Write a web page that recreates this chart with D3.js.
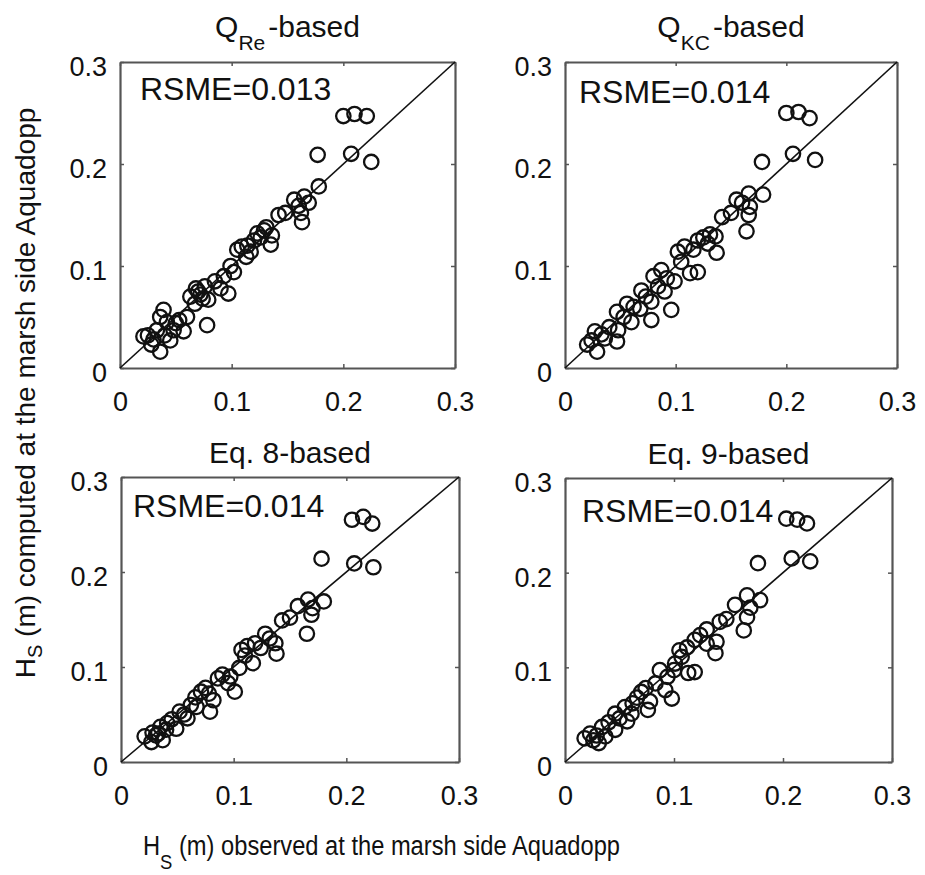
<!DOCTYPE html>
<html>
<head>
<meta charset="utf-8">
<script src="https://cdn.jsdelivr.net/npm/d3@7"></script>
<style>
  body { margin: 0; background: #fff; }
  text { font-family: "Liberation Sans", Arial, sans-serif; fill: #111; }
</style>
</head>
<body>
<div id="chart"></div>
<script>
// tick values shared by both axes of every panel
var tickValues = [0, 0.1, 0.2, 0.3];

var titleMain = ["Q", "Q", "Eq. 8-based", "Eq. 9-based"];
var titleSub = ["Re", "KC", "", ""];
var rsmeValues = ["0.013", "0.014", "0.014", "0.014"];

// [observed, computed] Hs pairs
var pointsQRe = [
  [0.200, 0.247], [0.210, 0.249], [0.221, 0.247],
  [0.177, 0.209], [0.207, 0.210], [0.225, 0.202],
  [0.178, 0.178], [0.156, 0.165], [0.165, 0.168], [0.169, 0.162], [0.162, 0.152], [0.163, 0.143],
  [0.142, 0.150], [0.129, 0.135], [0.123, 0.132], [0.136, 0.130], [0.135, 0.121], [0.120, 0.125],
  [0.117, 0.114], [0.105, 0.116], [0.109, 0.119], [0.114, 0.120], [0.126, 0.128], [0.131, 0.138],
  [0.102, 0.094], [0.093, 0.090], [0.097, 0.073], [0.090, 0.078], [0.076, 0.080], [0.070, 0.075],
  [0.063, 0.070], [0.079, 0.067], [0.067, 0.063], [0.078, 0.042], [0.085, 0.085], [0.072, 0.072],
  [0.060, 0.050], [0.057, 0.036], [0.048, 0.037], [0.039, 0.057], [0.036, 0.050], [0.045, 0.027],
  [0.033, 0.037], [0.025, 0.032], [0.021, 0.031], [0.036, 0.016], [0.028, 0.023], [0.050, 0.044],
  [0.042, 0.045], [0.030, 0.028], [0.068, 0.078], [0.074, 0.068], [0.053, 0.047], [0.040, 0.032],
  [0.113, 0.109], [0.099, 0.100], [0.148, 0.152], [0.160, 0.159]
];

var pointsQKC = [
  [0.200, 0.250], [0.211, 0.251], [0.221, 0.245],
  [0.178, 0.202], [0.206, 0.210], [0.226, 0.204],
  [0.179, 0.170], [0.166, 0.171], [0.155, 0.165], [0.167, 0.158], [0.166, 0.150], [0.164, 0.134],
  [0.142, 0.148], [0.136, 0.129], [0.137, 0.113], [0.120, 0.125], [0.129, 0.122], [0.125, 0.128],
  [0.102, 0.114], [0.108, 0.119], [0.113, 0.093], [0.120, 0.094], [0.116, 0.116], [0.131, 0.131],
  [0.087, 0.096], [0.080, 0.090], [0.099, 0.085], [0.090, 0.075], [0.078, 0.065], [0.096, 0.057],
  [0.078, 0.047], [0.068, 0.058], [0.056, 0.063], [0.047, 0.055], [0.060, 0.045], [0.069, 0.076],
  [0.048, 0.037], [0.047, 0.026], [0.036, 0.029], [0.027, 0.036], [0.024, 0.027], [0.029, 0.016],
  [0.020, 0.023], [0.040, 0.040], [0.084, 0.080], [0.062, 0.060], [0.073, 0.070], [0.092, 0.088],
  [0.053, 0.050], [0.033, 0.033], [0.105, 0.104], [0.150, 0.152], [0.160, 0.162]
];

var pointsEq8 = [
  [0.205, 0.255], [0.215, 0.258], [0.223, 0.251],
  [0.178, 0.214], [0.207, 0.209], [0.224, 0.205],
  [0.180, 0.169], [0.166, 0.171], [0.157, 0.164], [0.169, 0.155], [0.165, 0.135], [0.170, 0.162],
  [0.143, 0.149], [0.137, 0.125], [0.138, 0.114], [0.107, 0.118], [0.119, 0.125], [0.128, 0.135],
  [0.117, 0.104], [0.105, 0.099], [0.112, 0.122], [0.124, 0.120], [0.132, 0.130], [0.110, 0.112],
  [0.086, 0.088], [0.095, 0.083], [0.101, 0.074], [0.071, 0.074], [0.082, 0.065], [0.067, 0.058],
  [0.079, 0.053], [0.059, 0.046], [0.052, 0.053], [0.041, 0.041], [0.049, 0.035], [0.035, 0.037],
  [0.031, 0.028], [0.021, 0.027], [0.027, 0.021], [0.037, 0.023], [0.028, 0.031], [0.045, 0.045],
  [0.062, 0.060], [0.075, 0.078], [0.090, 0.092], [0.056, 0.050], [0.066, 0.068], [0.078, 0.072],
  [0.040, 0.034], [0.033, 0.030], [0.097, 0.090], [0.150, 0.152]
];

var pointsEq9 = [
  [0.203, 0.257], [0.213, 0.256], [0.222, 0.252],
  [0.177, 0.210], [0.208, 0.215], [0.225, 0.212],
  [0.179, 0.171], [0.167, 0.176], [0.156, 0.166], [0.167, 0.153], [0.164, 0.139], [0.170, 0.163],
  [0.142, 0.148], [0.139, 0.127], [0.138, 0.115], [0.119, 0.129], [0.105, 0.118], [0.107, 0.111],
  [0.113, 0.094], [0.119, 0.095], [0.101, 0.104], [0.124, 0.134], [0.130, 0.125], [0.112, 0.121],
  [0.087, 0.097], [0.083, 0.083], [0.092, 0.076], [0.098, 0.067], [0.070, 0.074], [0.078, 0.064],
  [0.076, 0.055], [0.055, 0.058], [0.061, 0.051], [0.046, 0.051], [0.057, 0.043], [0.046, 0.034],
  [0.034, 0.037], [0.037, 0.027], [0.023, 0.030], [0.026, 0.023], [0.031, 0.020], [0.018, 0.025],
  [0.066, 0.068], [0.040, 0.042], [0.130, 0.140], [0.094, 0.090], [0.074, 0.078], [0.062, 0.062],
  [0.050, 0.046], [0.029, 0.028], [0.148, 0.151], [0.100, 0.097]
];

var panelPoints = [pointsQRe, pointsQKC, pointsEq8, pointsEq9];

var width = 925,
    height = 875;

// plot boxes as they sit in the picture
var boxes = [
  { left: 120, right: 455, top: 62, bottom: 368 },
  { left: 565, right: 897, top: 62, bottom: 368 },
  { left: 121, right: 459, top: 477, bottom: 762 },
  { left: 565, right: 892, top: 478, bottom: 762 }
];
var rsmeOffsets = [[20, 38], [14, 41], [12, 40], [17, 44]];

var frameColor = "#555",
    markColor = "#111",
    tickFont = 27;

var svg = d3.select("#chart")
  .append("svg")
    .attr("width", width)
    .attr("height", height);

var tickFormat = function(d) { return d === 0 ? "0" : d.toFixed(1); };

boxes.forEach(function(box, i) {
  var x = d3.scaleLinear().domain([0, 0.3]).range([box.left, box.right]);
  var y = d3.scaleLinear().domain([0, 0.3]).range([box.bottom, box.top]);
  var g = svg.append("g").attr("class", "panel");

  // bottom axis with labels
  g.append("g")
    .attr("transform", "translate(0," + box.bottom + ")")
    .call(d3.axisBottom(x).tickValues(tickValues).tickFormat(tickFormat)
      .tickSizeInner(-4).tickSizeOuter(0).tickPadding(24))
    .call(styleAxis);

  // left axis with labels
  g.append("g")
    .attr("transform", "translate(" + box.left + ",0)")
    .call(d3.axisLeft(y).tickValues(tickValues).tickFormat(tickFormat)
      .tickSizeInner(-4).tickSizeOuter(0).tickPadding(13))
    .call(styleAxis)
    .selectAll("text").attr("dy", "0.5em");

  // top and right: frame lines and inward ticks only
  g.append("g")
    .attr("transform", "translate(0," + box.top + ")")
    .call(d3.axisTop(x).tickValues(tickValues).tickFormat("")
      .tickSizeInner(-4).tickSizeOuter(0))
    .call(styleAxis);
  g.append("g")
    .attr("transform", "translate(" + box.right + ",0)")
    .call(d3.axisRight(y).tickValues(tickValues).tickFormat("")
      .tickSizeInner(-4).tickSizeOuter(0))
    .call(styleAxis);

  // 1:1 line
  g.append("line")
    .attr("x1", x(0)).attr("y1", y(0))
    .attr("x2", x(0.3)).attr("y2", y(0.3))
    .attr("stroke", markColor)
    .attr("stroke-width", 1.6);

  g.selectAll("circle")
    .data(panelPoints[i])
    .enter()
      .append("circle")
      .attr("cx", function(d) { return x(d[0]); })
      .attr("cy", function(d) { return y(d[1]); })
      .attr("r", 7.2)
      .attr("fill", "none")
      .attr("stroke", markColor)
      .attr("stroke-width", 2.3);

  // panel title, subscript when there is one
  var cx = (box.left + box.right) / 2;
  var title = g.append("text")
    .attr("x", cx)
    .attr("y", box.top - (titleSub[i] ? 25 : 14))
    .attr("text-anchor", "middle")
    .attr("font-size", 30);
  title.append("tspan").text(titleMain[i]);
  if (titleSub[i]) {
    title.append("tspan").attr("dy", 13).attr("font-size", 21).text(titleSub[i]);
    title.append("tspan").attr("dy", -13).attr("dx", 3).text("-based");
  }

  g.append("text")
    .attr("x", box.left + rsmeOffsets[i][0])
    .attr("y", box.top + rsmeOffsets[i][1])
    .attr("font-size", 32)
    .text("RSME=" + rsmeValues[i]);
});

function styleAxis(sel) {
  sel.select(".domain").attr("stroke", frameColor).attr("stroke-width", 2.2);
  sel.selectAll(".tick line").attr("stroke", frameColor).attr("stroke-width", 1.5);
  sel.selectAll(".tick text")
    .attr("font-size", tickFont)
    .attr("font-family", "Liberation Sans, Arial, sans-serif")
    .attr("fill", "#222");
}

// shared axis titles
var yLabel = svg.append("text")
  .attr("transform", "translate(35,393) rotate(-90)")
  .attr("text-anchor", "middle")
  .attr("font-size", 28);
yLabel.append("tspan").text("H");
yLabel.append("tspan").attr("dy", 7).attr("font-size", 20).text("S");
yLabel.append("tspan").attr("dy", -7).text(" (m) computed at the marsh side Aquadopp");

var xLabel = svg.append("text")
  .attr("x", 143)
  .attr("y", 855)
  .attr("font-size", 27)
  .attr("textLength", 477)
  .attr("lengthAdjust", "spacingAndGlyphs");
xLabel.append("tspan").text("H");
xLabel.append("tspan").attr("dy", 14).attr("font-size", 21).text("S");
xLabel.append("tspan").attr("dy", -14).text(" (m) observed at the marsh side Aquadopp");
</script>
</body>
</html>
